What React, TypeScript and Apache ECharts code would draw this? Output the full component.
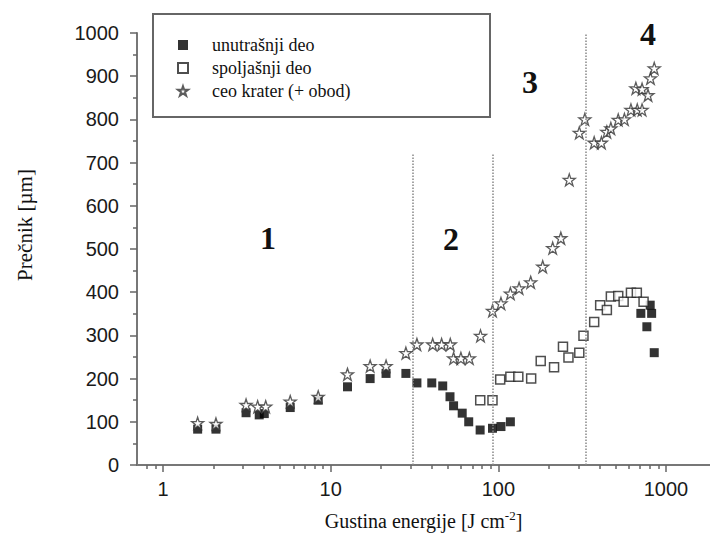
import React, { useEffect, useRef } from 'react';
import * as echarts from 'echarts';

const seriesNames = ['unutrašnji deo', 'spoljašnji deo', 'ceo krater (+ obod)'];

const innerPart: [number, number][] = [
  [1.61, 83], [2.07, 83], [3.13, 121], [3.75, 116], [4.02, 119], [5.74, 133], [8.43, 150],
  [12.6, 181], [17.2, 200], [21.4, 212], [28.1, 212], [32.7, 190], [40.1, 190], [46.6, 183],
  [51.5, 158], [54.1, 137], [60.9, 120], [66.6, 100], [77.9, 81], [92.3, 85], [103.7, 89],
  [118, 100], [708, 351], [769, 320], [805, 370], [821, 351], [851, 260],
];

const outerPart: [number, number][] = [
  [78, 150], [92.3, 150], [102.6, 198], [118, 204], [131.6, 204], [157, 200], [179, 241],
  [215, 226], [243, 274], [262, 249], [304, 260], [322, 299], [373, 331], [405, 370],
  [444, 359], [469, 390], [519, 391], [559, 378], [618, 399], [670, 399], [735, 378],
];

const wholeCrater: [number, number][] = [
  [1.61, 97], [2.07, 95], [3.13, 139], [3.67, 135], [4.1, 135], [5.74, 147], [8.43, 158],
  [12.6, 210], [17.2, 229], [21.4, 229], [28.1, 259], [32.7, 279], [40.6, 279], [45.9, 279],
  [51.7, 279], [54.1, 247], [59.8, 247], [67.2, 247], [78.3, 299], [92.3, 357], [103.7, 374],
  [118, 397], [133, 409], [156, 423], [184, 459], [211, 502], [236, 525], [265, 660],
  [304, 769], [328, 800], [373, 746], [412, 746], [444, 771], [469, 779], [519, 799],
  [565, 800], [618, 822], [674, 822], [720, 822], [661, 872], [720, 870], [781, 856],
  [808, 895], [851, 918],
];

const majorTicks = [1, 10, 100, 1000];
const minorTicks = [
  0.8, 0.9, 2, 3, 4, 5, 6, 7, 8, 9, 20, 30, 40, 50, 60, 70, 80, 90,
  200, 300, 400, 500, 600, 700, 800, 900,
];
// region boundaries: [energy, top of dotted line]
const regionBounds: [number, number][] = [[31, 720], [93, 720], [333, 1000]];
const regionLabels = ['1', '2', '3', '4'];

const STAR =
  'path://M50,2 L61.5,36 L97,36 L68.5,57.5 L79.5,92 L50,71 L20.5,92 L31.5,57.5 L3,36 L38.5,36 Z';

const SERIF = 'Liberation Serif';
const SANS = 'Liberation Sans';

export default function App() {
  const ref = useRef<HTMLDivElement>(null);
  useEffect(() => {
    if (!ref.current) return;
    const chart = echarts.init(ref.current, undefined, { renderer: 'svg' });
    const axisColor = '#777';
    const labelFont = { fontFamily: SANS, fontSize: 20, color: '#1a1a1a' };
    const regionLabelPos: [number, number][] = [[268, 238], [451, 239], [530, 82], [648, 34]];
    chart.setOption({
      animation: false,
      backgroundColor: '#fff',
      grid: { left: 137, top: 33, right: 0, bottom: 81, containLabel: false },
      legend: {
        data: seriesNames,
        orient: 'vertical',
        left: 172,
        top: 31,
        itemWidth: 10,
        itemHeight: 10,
        itemGap: 5,
        selectedMode: false,
        textStyle: {
          fontFamily: SERIF,
          fontSize: 18,
          color: '#111',
          padding: [0, 0, 0, 19],
        },
      },
      xAxis: [
        {
          type: 'log',
          logBase: 10,
          min: 0.7,
          max: 1830,
          position: 'bottom',
          name: 'Gustina energije [J cm{sup|-2}]',
          nameLocation: 'middle',
          nameGap: 44,
          nameTextStyle: {
            fontFamily: SERIF,
            fontSize: 20,
            color: '#111',
            lineHeight: 24,
            rich: {
              sup: {
                fontFamily: SERIF,
                fontSize: 13,
                color: '#111',
                lineHeight: 12,
                verticalAlign: 'top',
              },
            },
          },
          axisLine: { show: true, lineStyle: { color: axisColor, width: 2 } },
          axisTick: {
            show: true,
            customValues: majorTicks,
            length: 7,
            lineStyle: { color: '#666', width: 1.5 },
          },
          axisLabel: {
            ...labelFont,
            customValues: majorTicks,
            margin: 14,
            formatter: (v: number) => String(Math.round(v)),
          },
          splitLine: { show: false },
        },
        {
          type: 'log',
          logBase: 10,
          min: 0.7,
          max: 1830,
          position: 'bottom',
          axisLine: { show: false },
          axisTick: {
            show: true,
            customValues: minorTicks,
            length: 4,
            lineStyle: { color: '#666', width: 1.5 },
          },
          axisLabel: { show: false },
          splitLine: { show: false },
        },
      ],
      yAxis: {
        type: 'value',
        min: 0,
        max: 1000,
        interval: 100,
        axisLine: { show: true, lineStyle: { color: axisColor, width: 2 } },
        axisTick: { show: true, length: 7, lineStyle: { color: '#666', width: 1.5 } },
        minorTick: { show: true, splitNumber: 2, length: 4, lineStyle: { color: '#666', width: 1.5 } },
        axisLabel: { ...labelFont, margin: 18, formatter: (v: number) => String(v) },
        splitLine: { show: false },
      },
      series: [
        {
          name: seriesNames[0],
          type: 'scatter',
          xAxisIndex: 0,
          data: innerPart,
          symbol: 'rect',
          symbolSize: 9,
          itemStyle: { color: '#000' },
          z: 3,
          markLine: {
            silent: true,
            symbol: 'none',
            label: { show: false },
            lineStyle: { type: 'dotted', color: '#888', width: 1.5 },
            data: regionBounds.map(([x, top]) => [{ coord: [x, 0] }, { coord: [x, top] }]),
          },
        },
        {
          name: seriesNames[1],
          type: 'scatter',
          xAxisIndex: 0,
          data: outerPart,
          symbol: 'rect',
          symbolSize: 9,
          itemStyle: { color: '#fff', borderColor: '#222', borderWidth: 1.5 },
          z: 3,
        },
        {
          name: seriesNames[2],
          type: 'scatter',
          xAxisIndex: 0,
          data: wholeCrater,
          symbol: STAR,
          symbolSize: 12,
          itemStyle: { color: '#fff', borderColor: '#333', borderWidth: 1.3 },
          z: 4,
        },
      ],
      graphic: [
        {
          type: 'rect',
          shape: { x: 153, y: 14, width: 337, height: 103 },
          style: { fill: 'none', stroke: '#666', lineWidth: 2 },
          z: 10,
        },
        {
          type: 'text',
          x: 25,
          y: 225,
          rotation: Math.PI / 2,
          style: {
            text: 'Prečnik [µm]',
            fontFamily: SERIF,
            fontSize: 21,
            fill: '#111',
            align: 'center',
            verticalAlign: 'middle',
          },
        },
        ...regionLabels.map((t, i) => ({
          type: 'text',
          x: regionLabelPos[i][0],
          y: regionLabelPos[i][1],
          style: {
            text: t,
            fontFamily: SERIF,
            fontSize: 32,
            fontWeight: 'bold',
            fill: '#111',
            align: 'center',
            verticalAlign: 'middle',
          },
        })),
      ],
    });
    return () => chart.dispose();
  }, []);
  return (
    <div
      ref={ref}
      style={{ position: 'fixed', left: 0, top: 0, width: 710, height: 546, background: '#fff' }}
    />
  );
}
